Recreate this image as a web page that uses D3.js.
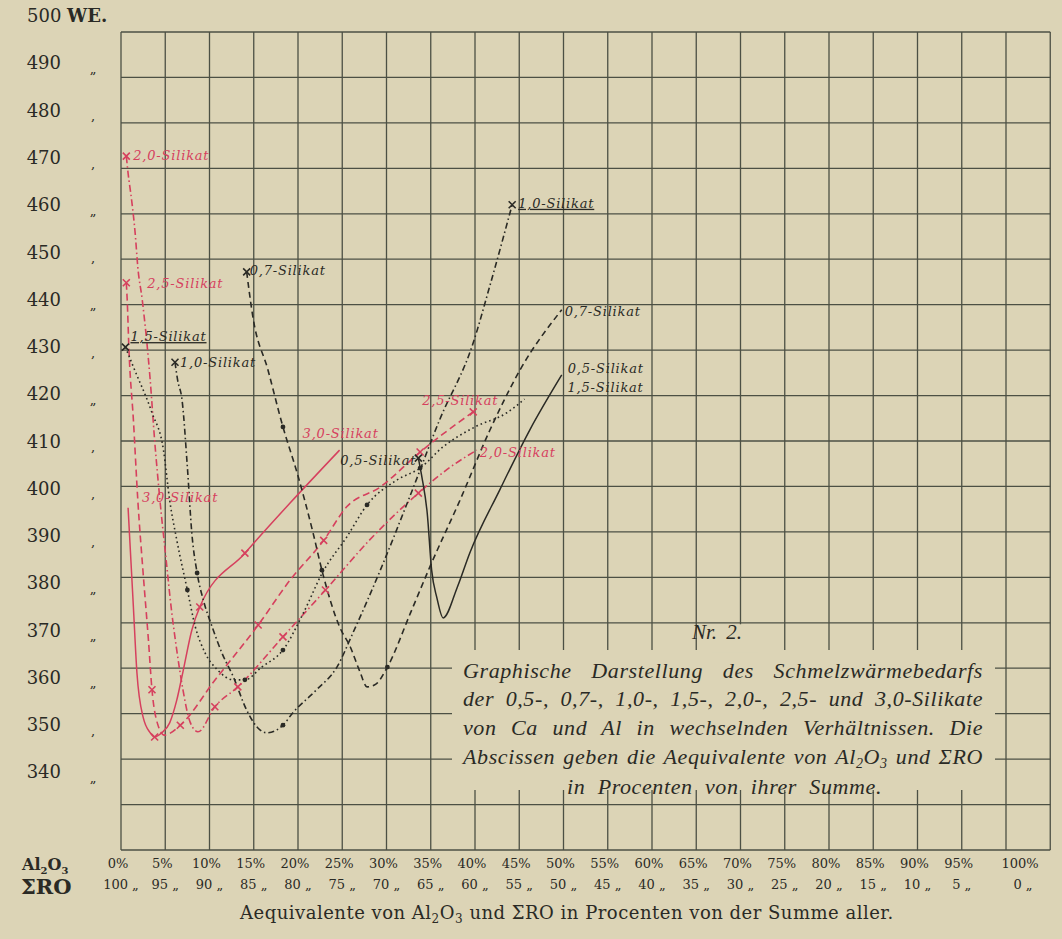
<!DOCTYPE html>
<html>
<head>
<meta charset="utf-8">
<script src="https://cdn.jsdelivr.net/npm/d3@7"></script>
<style>
  body { margin: 0; background: #dcd4b6; }
  svg { display: block; }
</style>
</head>
<body>
<svg id="mainsvg" width="1062" height="939"></svg>
<script>

// ---------- data ----------
const yTicks = [490, 480, 470, 460, 450, 440, 430, 420, 410, 400, 390, 380, 370, 360, 350, 340]
const yDitto = ["„", ",", ",", "„", ",", "„", ",", "„", ",", ",", ",", "„", "„", "„", ",", "„"]
const xTicks = [0, 5, 10, 15, 20, 25, 30, 35, 40, 45, 50, 55, 60, 65, 70, 75, 80, 85, 90, 95, 100]
const roTicks = [100, 95, 90, 85, 80, 75, 70, 65, 60, 55, 50, 45, 40, 35, 30, 25, 20, 15, 10, 5, 0]

// [Al2O3 %, WE, measured point]
const sil30 = [[0.8, 395.9, 0], [1.4, 374.9, 0], [1.8, 361.0, 0], [2.5, 351.6, 0], [3.3, 348.3, 0],
  [3.8, 347.4, 1], [4.6, 348.3, 0], [5.5, 350.4, 0], [6.3, 355.2, 0], [7.0, 361.2, 0], [8.0, 370.0, 0],
  [8.9, 374.9, 1], [14.0, 386.3, 1], [19.1, 396.9, 0], [24.7, 408.1, 0]]
const sil25 = [[0.6, 443.5, 1], [0.7, 439.9, 0], [0.9, 429.3, 0], [1.4, 414.5, 0], [1.9, 397.5, 0],
  [2.5, 382.1, 0], [3.1, 367.9, 0], [3.5, 357.4, 1], [4.1, 350.4, 0], [4.9, 347.8, 0], [6.7, 349.9, 1],
  [10.6, 359.4, 0], [15.5, 371.1, 1], [19.1, 380.6, 0], [22.9, 389.0, 1], [25.5, 396.1, 0],
  [29.3, 400.3, 0], [33.8, 407.7, 1], [39.8, 416.2, 1]]
const sil20 = [[0.6, 470.3, 1], [0.8, 466.7, 0], [1.2, 461.0, 0], [1.6, 454.0, 0], [1.9, 446.8, 0],
  [2.4, 439.9, 0], [3.3, 422.9, 0], [3.8, 410.2, 0], [4.4, 397.5, 0], [5.1, 384.9, 0], [5.7, 374.3, 0],
  [6.3, 365.8, 0], [7.0, 357.4, 0], [7.8, 350.6, 0], [8.7, 348.5, 0], [10.6, 353.8, 1], [13.2, 358.0, 1],
  [18.3, 368.6, 1], [23.1, 378.5, 1], [28.1, 389.1, 0], [33.6, 399.0, 1], [37.2, 404.5, 0], [40.2, 408.1, 0]]
const sil15 = [[0.5, 429.9, 1], [1.4, 425.7, 0], [3.5, 416.0, 0], [4.8, 408.1, 0], [5.5, 397.5, 0],
  [6.3, 389.1, 0], [7.5, 378.5, 1], [8.4, 370.7, 0], [9.5, 365.2, 0], [10.9, 361.6, 0], [12.7, 359.5, 0],
  [14.0, 359.5, 1], [15.9, 362.2, 0], [18.3, 365.8, 1], [20.6, 373.6, 0], [22.8, 382.3, 0],
  [25.5, 389.7, 0], [27.8, 396.5, 1], [31.2, 401.8, 0], [33.8, 404.3, 1], [36.4, 408.8, 0],
  [40.0, 413.0, 0], [43.6, 416.0, 0], [45.6, 418.9, 0]]
const sil10 = [[6.1, 426.7, 1], [6.4, 422.9, 0], [6.9, 418.7, 0], [7.5, 404.5, 0], [8.0, 390.6, 0],
  [8.6, 382.1, 1], [9.3, 376.4, 0], [10.3, 370.7, 0], [11.4, 365.2, 0], [12.7, 360.1, 0], [14.2, 353.1, 0],
  [15.7, 348.9, 0], [16.5, 348.3, 0], [18.3, 349.9, 1], [19.4, 352.5, 0], [22.1, 357.4, 0],
  [24.4, 362.2, 0], [26.2, 369.4, 0], [29.3, 382.7, 0], [32.7, 398.6, 0], [36.0, 414.5, 0],
  [39.8, 430.8, 0], [41.7, 443.0, 0], [44.2, 460.0, 1]]
const sil07 = [[14.2, 445.8, 1], [14.9, 436.3, 0], [16.6, 425.1, 0], [18.3, 413.0, 1], [19.9, 403.3, 0],
  [21.7, 390.6, 0], [22.7, 382.7, 1], [24.7, 370.7, 0], [25.9, 366.5, 0], [27.0, 361.2, 0],
  [27.8, 358.0, 0], [28.8, 358.6, 0], [30.1, 362.2, 1], [32.7, 373.6, 0], [34.9, 383.4, 0],
  [38.3, 397.5, 0], [41.7, 412.4, 0], [45.1, 425.1, 0], [49.8, 437.8, 0]]
const sil05 = [[33.6, 406.4, 1], [34.0, 402.4, 0], [34.6, 394.8, 0], [35.1, 382.7, 0], [35.7, 376.8, 0],
  [36.4, 372.6, 0], [38.0, 379.1, 0], [39.4, 386.3, 0], [42.8, 399.7, 0], [46.2, 412.4, 0], [49.8, 424.0, 0]]

const captionLines = [
  "Graphische Darstellung des Schmelzwärmebedarfs",
  "der 0,5-, 0,7-, 1,0-, 1,5-, 2,0-, 2,5- und 3,0-Silikate",
  "von Ca und Al in wechselnden Verhältnissen. Die",
  "Abscissen geben die Aequivalente von Al_2O_3 und ΣRO",
  "in Procenten von ihrer Summe."
]
const titleText = "Aequivalente von Al_2O_3 und ΣRO in Procenten von der Summe aller."

// ---------- setup ----------
const BG = "#dcd4b6", GRID = "#4c5044", RED = "#d6405e", INK = "#2a2a25"

let svg = d3.select("#mainsvg")
svg.append("rect").attr("width", 1062).attr("height", 939).attr("fill", BG)

const xScale = d3.scaleLinear().domain([0, 100]).range([121, 1006])
const yScale = d3.scaleLinear().domain([340, 490]).range([772, 63])
const gridY = d3.scaleLinear().domain([0, 18]).range([32, 850])

// text with _n subscripts
function addRich (sel, str, sub) {
  let low = false
  str.split(/(_\d)/).forEach(part => {
    if (!part) return
    if (part[0] === "_") {
      sel.append("tspan").attr("font-size", sub).attr("dy", low ? 0 : 4).text(part.slice(1))
      low = true
    } else {
      sel.append("tspan").attr("dy", low ? -4 : 0).text(part)
      low = false
    }
  })
}

// stretch the gaps between words to fill a width
function justify (sel, width) {
  let natural = sel.node().getComputedTextLength()
  let spaces = (sel.text().match(/ /g) || []).length
  if (spaces && width > natural) sel.attr("word-spacing", (width - natural) / spaces)
}

// ---------- grid ----------
let grid = svg.append("g").attr("id", "grid").attr("stroke", GRID).attr("stroke-width", 1.3)

grid.selectAll(".hline")
  .data(d3.range(19))
  .enter()
  .append("line")
  .attr("class", "hline")
  .attr("x1", xScale(0))
  .attr("x2", xScale(105))
  .attr("y1", d => gridY(d))
  .attr("y2", d => gridY(d))

grid.selectAll(".vline")
  .data(d3.range(0, 110, 5))
  .enter()
  .append("line")
  .attr("class", "vline")
  .attr("x1", d => xScale(d))
  .attr("x2", d => xScale(d))
  .attr("y1", gridY(0))
  .attr("y2", gridY(18))

// caption cut-out in the grid
svg.append("rect").attr("x", 452).attr("y", 650).attr("width", 543).attr("height", 140).attr("fill", BG)
svg.append("rect").attr("x", 712).attr("y", gridY(13) + 1.5).attr("width", 46).attr("height", 28).attr("fill", BG)

// ---------- curves ----------
const series = [
  {id: "s30", data: sil30, color: RED, dash: null},
  {id: "s25", data: sil25, color: RED, dash: "7,4"},
  {id: "s20", data: sil20, color: RED, dash: "7,3,1.5,3"},
  {id: "s15", data: sil15, color: INK, dash: "1.6,3"},
  {id: "s10", data: sil10, color: INK, dash: "6,3,1.5,3"},
  {id: "s07", data: sil07, color: INK, dash: "6,4"},
  {id: "s05", data: sil05, color: INK, dash: null}
]

let line = d3.line()
  .x(d => xScale(d[0]))
  .y(d => yScale(d[1]))
  .curve(d3.curveMonotoneX)

let curves = svg.append("g").attr("id", "curves")

curves.selectAll("path")
  .data(series)
  .enter()
  .append("path")
  .attr("d", d => line(d.data))
  .attr("fill", "none")
  .attr("stroke", d => d.color)
  .attr("stroke-width", d => d.dash ? 1.6 : 1.5)
  .attr("stroke-dasharray", d => d.dash)

// measured points
const cross = "M-3.5,-3.5L3.5,3.5M-3.5,3.5L3.5,-3.5"
series.forEach(s => {
  let pts = s.data.filter(d => d[2])
  let last = s.data[s.data.length - 1]
  let g = curves.append("g").attr("class", "marks-" + s.id)
  pts.forEach(d => {
    let edge = d === s.data[0] || d === last
    if (s.color === RED || edge) {
      g.append("path")
        .attr("d", cross)
        .attr("transform", `translate(${xScale(d[0])},${yScale(d[1])})`)
        .attr("stroke", s.color)
        .attr("stroke-width", 1.6)
        .attr("fill", "none")
    } else {
      g.append("circle")
        .attr("cx", xScale(d[0]))
        .attr("cy", yScale(d[1]))
        .attr("r", 2.4)
        .attr("fill", s.color)
    }
  })
})

// ---------- curve labels ----------
const notes = [
  {text: "2,0-Silikat", s: "s20", end: 0, dx: 7, dy: 4},
  {text: "2,5-Silikat", s: "s25", end: 0, dx: 21, dy: 5},
  {text: "3,0-Silikat", s: "s30", end: 0, dx: 14, dy: -6},
  {text: "3,0-Silikat", s: "s30", end: 1, dx: -37, dy: -12},
  {text: "2,5-Silikat", s: "s25", end: 1, dx: -51, dy: -7},
  {text: "2,0-Silikat", s: "s20", end: 1, dx: 3, dy: 7},
  {text: "1,5-Silikat", s: "s15", end: 0, dx: 5, dy: -6, line: true},
  {text: "1,0-Silikat", s: "s10", end: 0, dx: 5, dy: 5},
  {text: "0,7-Silikat", s: "s07", end: 0, dx: 3, dy: 3},
  {text: "1,0-Silikat", s: "s10", end: 1, dx: 6, dy: 3, line: true},
  {text: "0,7-Silikat", s: "s07", end: 1, dx: 3, dy: 6},
  {text: "0,5-Silikat", s: "s05", end: 1, dx: 6, dy: -2},
  {text: "1,5-Silikat", s: "s15", end: 1, dx: 43, dy: -7},
  {text: "0,5-Silikat", s: "s05", end: 0, dx: -2, dy: 7, anchor: "end"}
]

let noteGroup = svg.append("g").attr("id", "notes")
notes.forEach(n => {
  let s = series.find(d => d.id === n.s)
  let p = n.end ? s.data[s.data.length - 1] : s.data[0]
  noteGroup.append("text")
    .attr("x", xScale(p[0]) + n.dx)
    .attr("y", yScale(p[1]) + n.dy)
    .attr("text-anchor", n.anchor || "start")
    .attr("font-family", "DejaVu Serif")
    .attr("font-style", "italic")
    .attr("font-size", 13)
    .attr("letter-spacing", 0.8)
    .attr("text-decoration", n.line ? "underline" : null)
    .attr("fill", s.color)
    .text(n.text)
})

// ---------- y axis labels ----------
let yAxis = svg.append("g").attr("id", "yaxis")
  .attr("font-family", "DejaVu Serif")
  .attr("fill", INK)

yAxis.selectAll(".ylab")
  .data(yTicks)
  .enter()
  .append("text")
  .attr("class", "ylab")
  .attr("x", 61)
  .attr("y", d => yScale(d))
  .attr("dy", "0.36em")
  .attr("text-anchor", "end")
  .attr("font-size", 18)
  .text(d => d)

yAxis.selectAll(".ditto")
  .data(yTicks)
  .enter()
  .append("text")
  .attr("class", "ditto")
  .attr("x", 93)
  .attr("y", d => yScale(d) + 10)
  .attr("text-anchor", "middle")
  .attr("font-size", 13)
  .text((d, i) => yDitto[i])

let topLabel = yAxis.append("text")
  .attr("x", 27)
  .attr("y", yScale(500))
  .attr("dy", "0.36em")
  .attr("font-size", 18)
topLabel.append("tspan").text("500 ")
topLabel.append("tspan").attr("font-weight", "bold").text("WE.")

// ---------- x axis labels ----------
const labelX = d => xScale(d) - 3 + (d === 100 ? 17 : 0)

let xAxis = svg.append("g").attr("id", "xaxis")
  .attr("font-family", "DejaVu Serif")
  .attr("fill", INK)

xAxis.selectAll(".pct")
  .data(xTicks)
  .enter()
  .append("text")
  .attr("class", "pct")
  .attr("x", d => labelX(d))
  .attr("y", 868)
  .attr("text-anchor", "middle")
  .attr("font-size", 13)
  .text(d => d + "%")

xAxis.selectAll(".ro")
  .data(roTicks)
  .enter()
  .append("text")
  .attr("class", "ro")
  .attr("x", (d, i) => labelX(xTicks[i]) + 3)
  .attr("y", 889)
  .attr("text-anchor", "middle")
  .attr("font-size", 13)
  .text(d => d + " „")

let al = xAxis.append("text")
  .attr("x", 22).attr("y", 870)
  .attr("font-size", 16).attr("font-weight", "bold")
addRich(al, "Al_2O_3", 10)

xAxis.append("text")
  .attr("x", 21).attr("y", 894)
  .attr("font-size", 21).attr("font-weight", "bold")
  .text("ΣRO")

let title = xAxis.append("text")
  .attr("x", 240).attr("y", 919)
  .attr("font-size", 18)
  .attr("letter-spacing", 0.5)
addRich(title, titleText, 12)
justify(title, 650)

// ---------- caption ----------
let caption = svg.append("g").attr("id", "caption")
  .attr("font-family", "Liberation Serif")
  .attr("font-style", "italic")
  .attr("fill", INK)

caption.append("text")
  .attr("x", 692).attr("y", 639)
  .attr("font-size", 21)
  .attr("word-spacing", 4)
  .text("Nr. 2.")

const capY = [678, 706, 735, 764, 794]
captionLines.forEach((t, i) => {
  let last = i === captionLines.length - 1
  let tx = caption.append("text")
    .attr("x", last ? 567 : 463)
    .attr("y", capY[i])
    .attr("font-size", 22)
    .attr("letter-spacing", 0.6)
  addRich(tx, t, 14)
  justify(tx, last ? 315 : 520)
})

</script>
</body>
</html>
